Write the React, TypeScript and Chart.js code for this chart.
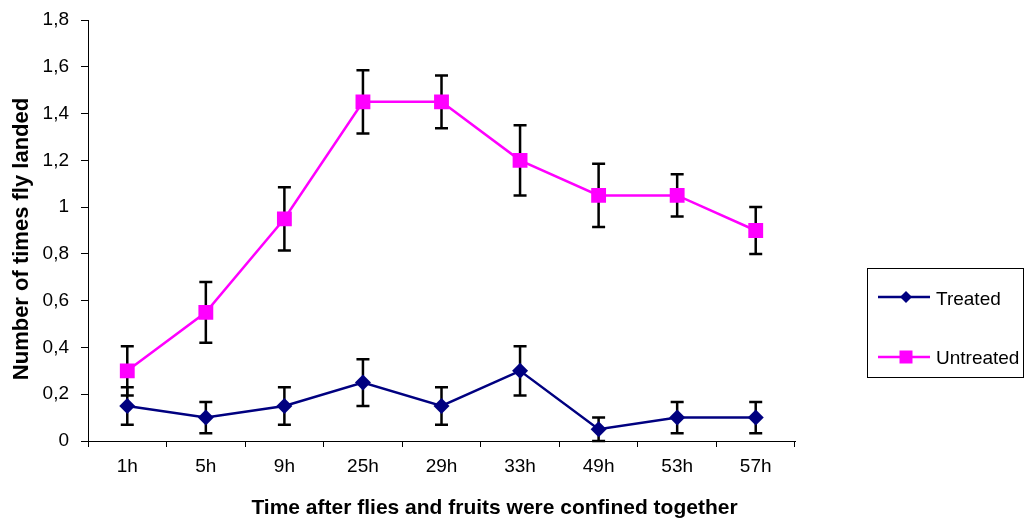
import React, { useEffect, useRef } from "react";
import { Chart, registerables } from "chart.js";

Chart.register(...registerables);

const categories = ["1h", "5h", "9h", "25h", "29h", "33h", "49h", "53h", "57h"];
const treated = [0.15, 0.1, 0.15, 0.25, 0.15, 0.3, 0.05, 0.1, 0.1];
const treatedErr = [0.08, 0.067, 0.08, 0.1, 0.08, 0.105, 0.05, 0.067, 0.067];
const untreated = [0.3, 0.55, 0.95, 1.45, 1.45, 1.2, 1.05, 1.05, 0.9];
const untreatedErr = [0.105, 0.13, 0.135, 0.135, 0.113, 0.15, 0.135, 0.09, 0.1];
const yTickLabels = ["0", "0,2", "0,4", "0,6", "0,8", "1", "1,2", "1,4", "1,6", "1,8"];
const xTitle = "Time after flies and fruits were confined together";
const yTitle = "Number of times fly landed";

const FONT = "'Liberation Sans', Arial, sans-serif";

const errorBarPlugin = {
  id: "errorBars",
  beforeDatasetsDraw(chart: any) {
    const ctx = chart.ctx;
    const y = chart.scales.y;
    const errs = [treatedErr, untreatedErr];
    ctx.save();
    ctx.strokeStyle = "#000000";
    ctx.lineWidth = 2.5;
    chart.data.datasets.forEach((ds: any, di: number) => {
      const meta = chart.getDatasetMeta(di);
      meta.data.forEach((pt: any, i: number) => {
        const v = ds.data[i];
        const e = errs[di][i];
        const yt = y.getPixelForValue(v + e);
        const yb = y.getPixelForValue(Math.max(0, v - e));
        const x = pt.x;
        ctx.beginPath();
        ctx.moveTo(x, yt);
        ctx.lineTo(x, yb);
        ctx.moveTo(x - 6.5, yt);
        ctx.lineTo(x + 6.5, yt);
        ctx.moveTo(x - 6.5, yb);
        ctx.lineTo(x + 6.5, yb);
        ctx.stroke();
      });
    });
    ctx.restore();
  },
};

const decorPlugin = {
  id: "decor",
  afterDraw(chart: any) {
    const ctx = chart.ctx;
    ctx.save();
    ctx.fillStyle = "#000000";
    ctx.textAlign = "center";
    ctx.textBaseline = "alphabetic";
    ctx.font = `bold 21px ${FONT}`;
    ctx.fillText(xTitle, 494.5, 514);
    ctx.font = `bold 22px ${FONT}`;
    ctx.translate(28, 239);
    ctx.rotate(-Math.PI / 2);
    ctx.fillText(yTitle, 0, 0);
    ctx.restore();

    // legend box
    const bx = 867.5, by = 268.5, bw = 156, bh = 109;
    ctx.save();
    ctx.strokeStyle = "#000000";
    ctx.lineWidth = 1;
    ctx.strokeRect(bx, by, bw, bh);
    const rows = [297, 357];
    const baselines = [304.5, 364];
    chart.data.datasets.forEach((ds: any, di: number) => {
      const ry = rows[di];
      ctx.strokeStyle = ds.borderColor;
      ctx.lineWidth = 2.5;
      ctx.beginPath();
      ctx.moveTo(878, ry);
      ctx.lineTo(930, ry);
      ctx.stroke();
      ctx.fillStyle = ds.backgroundColor;
      ctx.beginPath();
      if (ds.pointStyle === "rect") {
        ctx.rect(906 - 6.5, ry - 6.5, 13, 13);
      } else {
        ctx.moveTo(906, ry - 6);
        ctx.lineTo(912, ry);
        ctx.lineTo(906, ry + 6);
        ctx.lineTo(900, ry);
        ctx.closePath();
      }
      ctx.fill();
      ctx.fillStyle = "#000000";
      ctx.font = `19px ${FONT}`;
      ctx.textAlign = "left";
      ctx.textBaseline = "alphabetic";
      ctx.fillText(ds.label, 936, baselines[di]);
    });
    ctx.restore();
  },
};

export default function App() {
  const ref = useRef<HTMLCanvasElement | null>(null);
  useEffect(() => {
    if (!ref.current) return;
    const chart = new Chart(ref.current, {
      type: "line",
      data: {
        labels: categories,
        datasets: [
          {
            label: "Treated",
            data: treated,
            borderColor: "#000080",
            backgroundColor: "#000080",
            borderWidth: 2.5,
            pointStyle: "rectRot",
            pointRadius: 8,
            pointBorderWidth: 0,
            tension: 0,
          },
          {
            label: "Untreated",
            data: untreated,
            borderColor: "#FF00FF",
            backgroundColor: "#FF00FF",
            borderWidth: 2.5,
            pointStyle: "rect",
            pointRadius: 10.5,
            pointBorderWidth: 0,
            tension: 0,
          },
        ],
      },
      options: {
        responsive: false,
        animation: false,
        layout: { padding: { left: 0, top: 20, right: 233, bottom: 0 } },
        plugins: {
          legend: { display: false },
          tooltip: { enabled: false },
        },
        scales: {
          x: {
            offset: true,
            grid: {
              offset: true,
              drawOnChartArea: false,
              drawTicks: true,
              tickLength: 6,
              color: "#000000",
              lineWidth: 1,
            },
            border: { display: true, color: "#000000", width: 1 },
            ticks: {
              color: "#000000",
              font: { family: FONT, size: 19 },
              padding: 8,
              maxRotation: 0,
              autoSkip: false,
            },
            afterFit(scale: any) {
              scale.height = 79;
              scale.paddingLeft = 0;
              scale.paddingRight = 0;
            },
          },
          y: {
            min: 0,
            max: 1.8,
            grid: {
              drawOnChartArea: false,
              drawTicks: true,
              tickLength: 7,
              color: "#000000",
              lineWidth: 1,
            },
            border: { display: true, color: "#000000", width: 1 },
            ticks: {
              stepSize: 0.2,
              color: "#000000",
              font: { family: FONT, size: 19 },
              padding: 12,
              callback: (_v: any, i: number) => yTickLabels[i],
            },
            afterFit(scale: any) {
              scale.width = 88;
              scale.paddingTop = 0;
              scale.paddingBottom = 0;
            },
          },
        },
      },
      plugins: [errorBarPlugin, decorPlugin],
    });
    return () => chart.destroy();
  }, []);
  return (
    <div style={{ position: "absolute", left: 0, top: 0, width: 1028, height: 520, background: "#ffffff" }}>
      <canvas ref={ref} width={1028} height={520} style={{ display: "block" }} />
    </div>
  );
}
